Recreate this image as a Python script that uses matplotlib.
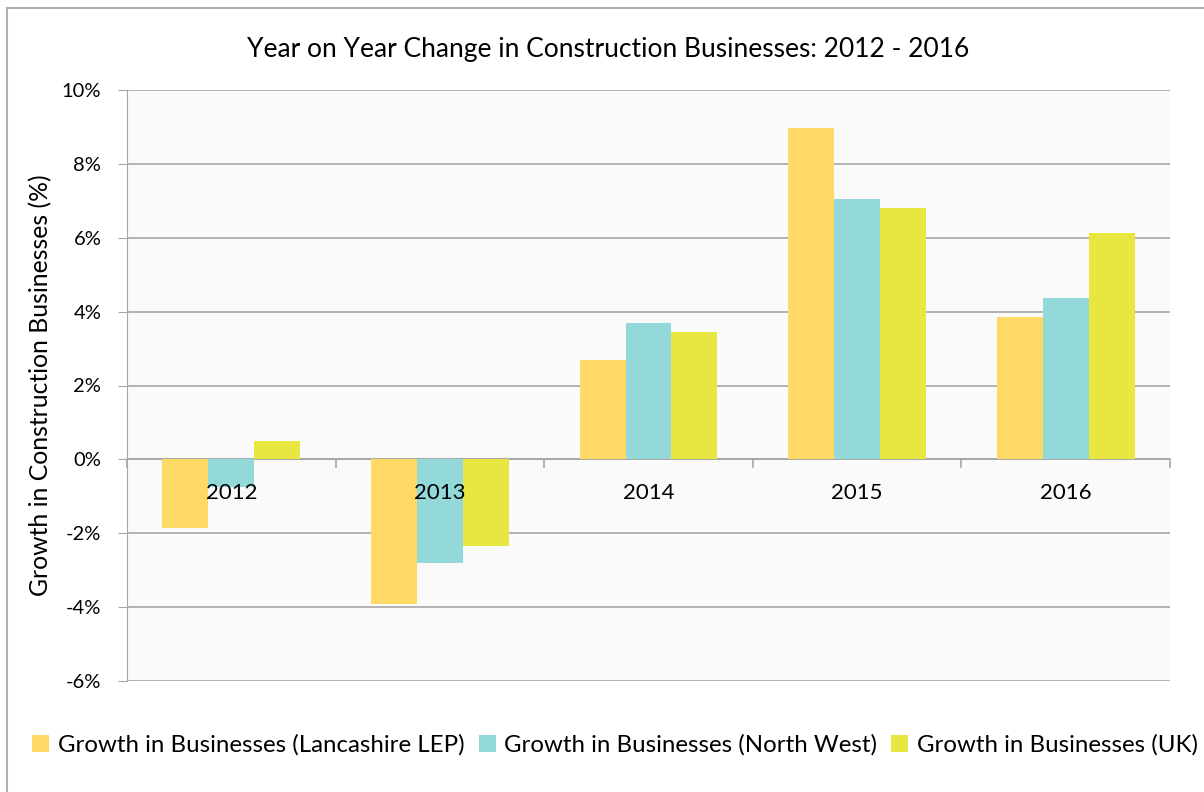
import matplotlib
matplotlib.use("Agg")
import matplotlib.pyplot as plt
from matplotlib.patches import Rectangle
import numpy as np

years = ["2012", "2013", "2014", "2015", "2016"]
lep = [-1.86, -3.92, 2.70, 8.97, 3.86]
nw = [-0.75, -2.81, 3.68, 7.05, 4.38]
uk = [0.51, -2.35, 3.46, 6.81, 6.14]
series_names = ["Growth in Businesses (Lancashire LEP)",
                "Growth in Businesses (North West)",
                "Growth in Businesses (UK)"]
colors = ["#FFD966", "#93D9D9", "#E8E640"]
yticks = [-6, -4, -2, 0, 2, 4, 6, 8, 10]

plt.rcParams['font.family'] = ['Lato', 'DejaVu Sans']

fig = plt.figure(figsize=(12.04, 7.92), dpi=100)
ax = fig.add_axes([127/1204, 1-681/792, (1170-127)/1204, (681-90)/792])
ax.set_facecolor("#fafafa")

x = np.arange(len(years))
w = 0.22
for i, (vals, c, name) in enumerate(zip([lep, nw, uk], colors, series_names)):
    ax.bar(x + (i-1)*w, vals, width=w, color=c, label=name, zorder=3)

ax.set_xlim(-0.5, len(years)-0.5)
ax.set_ylim(-6, 10)
ax.set_yticks(yticks)
ax.set_yticklabels([f"{t}%" for t in yticks], fontsize=14.5)
ax.yaxis.grid(True, color="#a6a6a6", linewidth=1.2, zorder=1)
ax.tick_params(axis='y', length=6.5, color="#a6a6a6", pad=12)

ax.set_xticks([])
for sp in ["top", "right", "bottom"]:
    ax.spines[sp].set_visible(False)
ax.spines["left"].set_color("#a6a6a6")
ax.axhline(0, color="#a6a6a6", linewidth=1.2, zorder=2)
# category separator tick marks at zero line
for b in np.arange(-0.5, len(years), 1.0):
    ax.plot([b, b], [0, -0.2], color="#a6a6a6", linewidth=1.2, zorder=2, clip_on=False)
for xi, lab in zip(x, years):
    ax.text(xi, -0.9, lab, ha="center", va="center", fontsize=16, zorder=4)

ax.set_ylabel("Growth in Construction Businesses (%)", fontsize=17.8, labelpad=7)
fig.text(608/1204, 1-50/792, "Year on Year Change in Construction Businesses: 2012 - 2016",
         ha="center", va="center", fontsize=19)

fig.legend(loc="center", bbox_to_anchor=(615/1204, 1-745/792), ncol=3, frameon=False,
           fontsize=17.3, handlelength=0.7, handleheight=0.7, handletextpad=0.35,
           columnspacing=0.6)

fig.patches.append(Rectangle((7/1204, -0.01), 1.1, 1.0, transform=fig.transFigure,
                             fill=False, edgecolor="#b0b0b0", linewidth=1.5))

fig.savefig("out.png", dpi=100)
